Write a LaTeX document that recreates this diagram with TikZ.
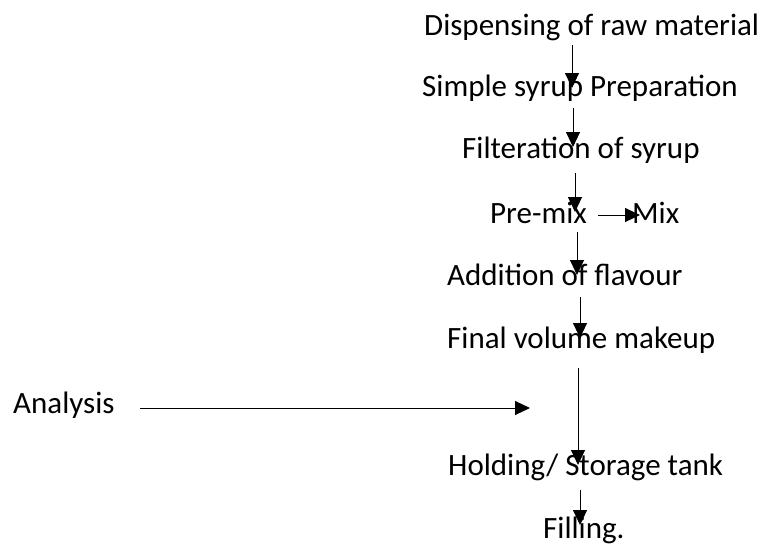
\documentclass[tikz,border=0pt]{standalone}
\usepackage{fontspec}
\setmainfont{Carlito}
\usetikzlibrary{calc}
\usetikzlibrary{arrows.meta}

\begin{document}
\begin{tikzpicture}[x=1pt,y=-1pt,
  step text/.style={anchor=base west,inner sep=0pt,font=\fontsize{31}{37}\selectfont},
  flow/.style={-{Triangle[width=14pt,length=15pt]},line width=0.9pt}]
  \useasboundingbox (0,0) rectangle (765,546);

  \node[step text] (disp) at (424,35) {Dispensing of raw material};
  \node[step text] (syrup) at (422,96) {Simple syrup Preparation};
  \node[step text] (filt) at (462,158) {Filteration of syrup};
  \node[step text] (premix) at (490,223) {Pre-mix};
  \node[step text] (mix) at (632,223) {Mix};
  \node[step text] (flav) at (447,285) {Addition of flavour};
  \node[step text] (makeup) at (447,348) {Final volume makeup};
  \node[step text] (analysis) at (13,413) {Analysis};
  \node[step text] (tank) at (448,475) {Holding/ Storage tank};
  \node[step text] (fill) at (543,538) {Filling.};
  \coordinate (merge) at (530,408);

\draw[flow] ($(disp.base west)+(148,10)$) -- ($(syrup.base west)+(150,-8)$);

\draw[flow] ($(syrup.base west)+(151,12)$) -- ($(filt.base west)+(111,-11)$);

\draw[flow] ($(filt.base west)+(113,15)$) -- ($(premix.base west)+(85,-11)$);

\draw[flow] ($(premix.base west)+(108,-8)$) -- ($(mix.base west)+(8,-8)$);

\draw[flow] ($(premix.base west)+(87,9)$) -- ($(flav.base west)+(130,-10)$);

\draw[flow] ($(flav.base west)+(133,12)$) -- ($(makeup.base west)+(133,-10)$);

\draw[flow] ($(makeup.base west)+(131,20)$) -- ($(tank.base west)+(130,-10)$);

\draw[flow] ($(analysis.base west)+(127,-5)$) -- (merge);

\draw[flow] ($(tank.base west)+(132,15)$) -- ($(fill.base west)+(37,-13)$);

\end{tikzpicture}
\end{document}
